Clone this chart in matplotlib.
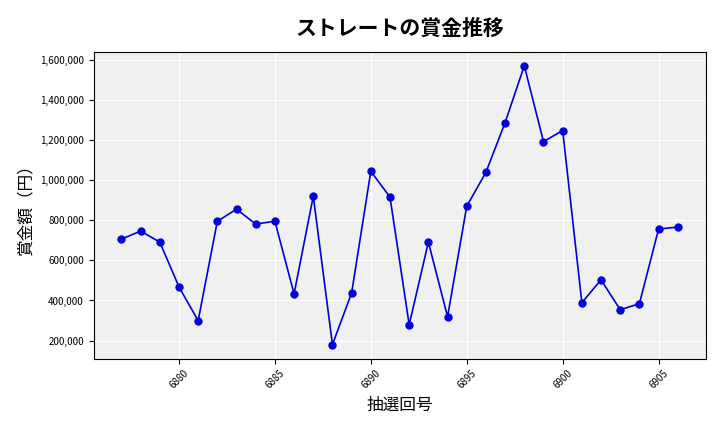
import matplotlib
matplotlib.use('Agg')
import matplotlib.pyplot as plt
from matplotlib.ticker import FuncFormatter

plt.rcParams['font.family'] = ['Noto Sans CJK JP', 'DejaVu Sans']

draws = list(range(6877, 6907))
prize = [706000, 746000, 691000, 468000, 299000, 795000, 855000, 781000, 795000, 433000,
         920000, 180000, 438000, 1044000, 915000, 279000, 691000, 319000, 870000, 1039000,
         1287000, 1570000, 1192000, 1247000, 389000, 503000, 354000, 384000, 756000, 766000]

fig, ax = plt.subplots(figsize=(7.2, 4.32), dpi=100)
ax.set_facecolor('#f0f0f0')
ax.grid(True, color='white', linewidth=0.8)
ax.set_axisbelow(True)
ax.plot(draws, prize, color='#0000dd', marker='o', markersize=5, linewidth=1.2)
ax.set_title('ストレートの賞金推移', fontsize=15, fontweight='bold', pad=12)
ax.set_xlabel('抽選回号', fontsize=12)
ax.set_ylabel('賞金額（円）', fontsize=12)
ax.set_xticks([6880, 6885, 6890, 6895, 6900, 6905])
ax.yaxis.set_major_formatter(FuncFormatter(lambda v, p: f'{int(v):,}'))
ax.tick_params(axis='x', labelsize=7, labelrotation=45)
ax.tick_params(axis='y', labelsize=7)
fig.subplots_adjust(left=0.13, right=0.98, top=0.88, bottom=0.17)
fig.savefig('out.png')
